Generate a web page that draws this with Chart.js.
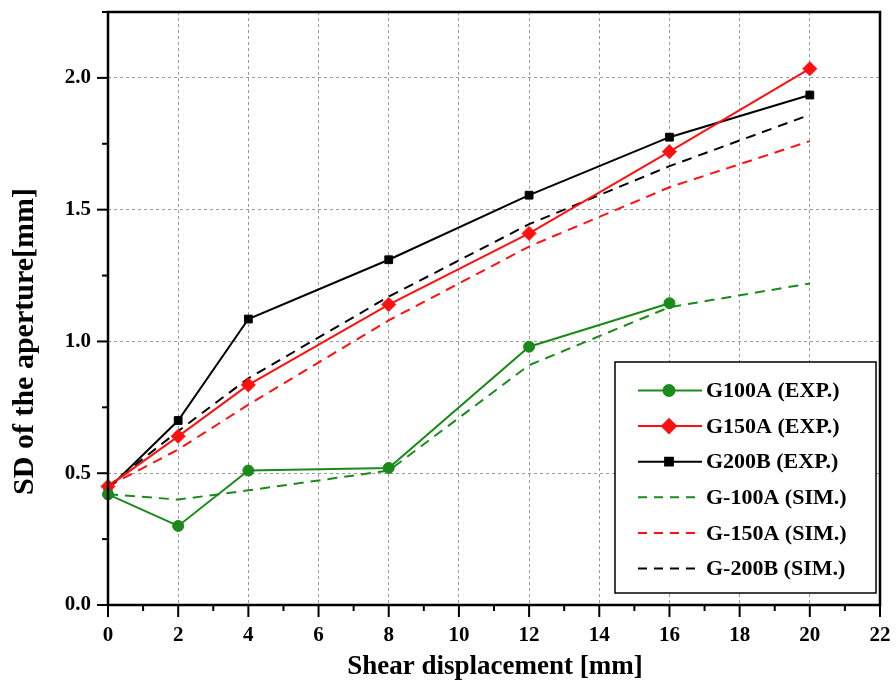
<!DOCTYPE html>
<html>
<head>
<meta charset="utf-8">
<script src="https://cdn.jsdelivr.net/npm/chart.js@4/dist/chart.umd.min.js"></script>
<style>
  html, body { margin: 0; padding: 0; background: #fff; }
  #wrap { width: 896px; height: 693px; }
</style>
</head>
<body>
<div id="wrap"><canvas id="apertureChart" width="896" height="693"></canvas></div>
<script>
// shear displacement [mm]
const displacement = [0, 2, 4, 8, 12, 16, 20];

// experimental SD of the aperture
const g100aExp = [0.42, 0.30, 0.51, 0.52, 0.98, 1.145, null];
const g150aExp = [0.45, 0.64, 0.835, 1.14, 1.41, 1.72, 2.035];
const g200bExp = [0.44, 0.70, 1.085, 1.31, 1.555, 1.775, 1.935];

// simulated SD of the aperture
const g100aSim = [0.42, 0.40, 0.435, 0.51, 0.91, 1.13, 1.22];
const g150aSim = [0.45, 0.59, 0.76, 1.08, 1.36, 1.585, 1.76];
const g200bSim = [0.45, 0.66, 0.86, 1.17, 1.445, 1.665, 1.86];

const seriesNames = ["G100A (EXP.)", "G150A (EXP.)", "G200B (EXP.)",
                     "G-100A (SIM.)", "G-150A (SIM.)", "G-200B (SIM.)"];

const xMajor = [0, 2, 4, 6, 8, 10, 12, 14, 16, 18, 20, 22];
const yMajor = [0, 0.5, 1.0, 1.5, 2.0];
const xTitle = "Shear displacement [mm]";
const yTitle = "SD of the aperture[mm]";

const GREEN = "#1a8a1a";
const RED = "#ff1010";
const BLACK = "#000000";
const FONT = "'Liberation Serif', 'Times New Roman', serif";

function pts(vals) {
    return displacement.map((x, i) => ({ x: x, y: vals[i] })).filter(p => p.y !== null);
}

function expSet(label, vals, color, shape, r) {
    return {
        label: label, data: pts(vals), borderColor: color, backgroundColor: color,
        borderWidth: 2, pointStyle: shape, pointRadius: r, pointHoverRadius: r,
        pointBorderWidth: 1, clip: false, tension: 0
    };
}
function simSet(label, vals, color) {
    return {
        label: label, data: pts(vals), borderColor: color, backgroundColor: color,
        borderWidth: 2, borderDash: [10, 7], pointRadius: 0, clip: false, tension: 0
    };
}

// frame, minor/major ticks, axis titles and the boxed legend inside the plot
const decorPlugin = {
    id: "decor",
    afterDraw(chart) {
        const c = chart.ctx, a = chart.chartArea;
        const xs = chart.scales.x, ys = chart.scales.y;
        c.save();
        c.strokeStyle = "#000";
        c.lineWidth = 2.5;
        c.setLineDash([]);
        c.strokeRect(a.left, a.top, a.right - a.left, a.bottom - a.top);

        c.lineWidth = 2;
        for (let v = 0; v <= 22; v += 1) {
            const px = xs.getPixelForValue(v);
            const len = v % 2 === 0 ? 12 : 6;
            c.beginPath(); c.moveTo(px, a.bottom); c.lineTo(px, a.bottom + len); c.stroke();
        }
        for (let v = 0; v <= 2.25; v += 0.25) {
            const py = ys.getPixelForValue(v);
            const len = Math.abs(v * 2 - Math.round(v * 2)) < 1e-6 ? 11 : 6;
            c.beginPath(); c.moveTo(a.left, py); c.lineTo(a.left - len, py); c.stroke();
        }

        // axis titles
        c.fillStyle = "#000";
        c.textAlign = "center";
        c.textBaseline = "middle";
        c.font = "bold 27px " + FONT;
        c.fillText(xTitle, (a.left + a.right) / 2 + 1, 667);
        c.save();
        c.translate(25, (a.top + a.bottom) / 2 + 33);
        c.rotate(-Math.PI / 2);
        c.font = "bold 30px " + FONT;
        c.fillText(yTitle, 0, 0);
        c.restore();

        // legend
        const bx = 615, by = 362, bw = 261, bh = 231;
        c.fillStyle = "#fff";
        c.fillRect(bx, by, bw, bh);
        c.lineWidth = 1.5;
        c.strokeStyle = "#000";
        c.strokeRect(bx, by, bw, bh);
        c.font = "bold 22px " + FONT;
        c.textAlign = "left";
        c.textBaseline = "middle";
        chart.data.datasets.forEach((ds, i) => {
            const y = by + 28.5 + i * 35.6;
            c.strokeStyle = ds.borderColor;
            c.lineWidth = 2;
            c.setLineDash(ds.pointRadius > 0 ? [] : [9, 7]);
            c.beginPath(); c.moveTo(638, y); c.lineTo(702, y); c.stroke();
            c.setLineDash([]);
            if (ds.pointRadius > 0) {
                c.fillStyle = ds.backgroundColor;
                Chart.helpers.drawPoint(c, { pointStyle: ds.pointStyle, radius: ds.pointRadius, borderWidth: 1 }, 669, y);
                c.fill();
            }
            c.fillStyle = "#000";
            c.fillText(ds.label, 706, y + 1);
        });
        c.restore();
    }
};

new Chart(document.getElementById("apertureChart"), {
    type: "line",
    data: {
        datasets: [
            expSet(seriesNames[0], g100aExp, GREEN, "circle", 5.5),
            expSet(seriesNames[1], g150aExp, RED, "rectRot", 7),
            expSet(seriesNames[2], g200bExp, BLACK, "rect", 5.5),
            simSet(seriesNames[3], g100aSim, GREEN),
            simSet(seriesNames[4], g150aSim, RED),
            simSet(seriesNames[5], g200bSim, BLACK)
        ]
    },
    options: {
        responsive: false,
        animation: false,
        layout: { padding: { top: 12, right: 16, left: 0, bottom: 0 } },
        plugins: { legend: { display: false }, tooltip: { enabled: false } },
        scales: {
            x: {
                type: "linear", min: 0, max: 22,
                afterBuildTicks: s => { s.ticks = xMajor.map(v => ({ value: v })); },
                afterFit: s => { s.height = 88; s.paddingLeft = 0; s.paddingRight = 0; },
                grid: { color: "#9a9a9a", lineWidth: 1, drawTicks: false },
                border: { display: false, dash: [3, 3] },
                ticks: { padding: 18, color: "#000", font: { family: FONT, size: 21, weight: "bold" } }
            },
            y: {
                type: "linear", min: 0, max: 2.25,
                afterBuildTicks: s => { s.ticks = yMajor.map(v => ({ value: v })); },
                afterFit: s => { s.width = 108; s.paddingTop = 0; s.paddingBottom = 0; },
                grid: { color: "#9a9a9a", lineWidth: 1, drawTicks: false },
                border: { display: false, dash: [3, 3] },
                ticks: { padding: 17, color: "#000", callback: v => v.toFixed(1),
                         font: { family: FONT, size: 21, weight: "bold" } }
            }
        }
    },
    plugins: [decorPlugin]
});
</script>
</body>
</html>
